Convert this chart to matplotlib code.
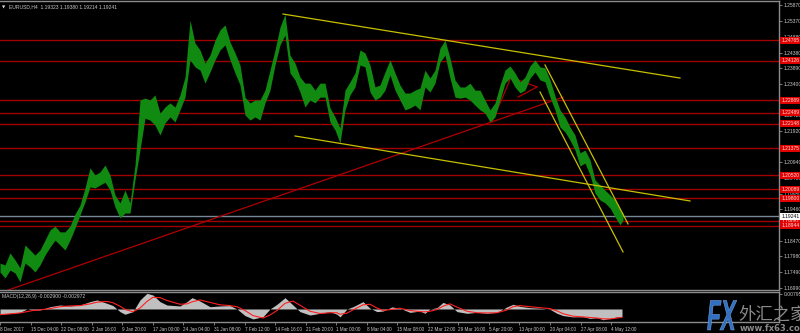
import matplotlib
matplotlib.use("Agg")
import matplotlib.pyplot as plt
from matplotlib.transforms import blended_transform_factory, Affine2D
from matplotlib.textpath import TextPath
from matplotlib.font_manager import FontProperties
from matplotlib.patches import PathPatch

# ---------------- data ----------------
bars = [0, 5, 10, 15, 20, 25, 30, 35, 40, 45, 50, 55, 60, 65, 70, 75, 80, 85, 90, 95,
        100, 105, 110, 115, 120, 125, 130, 135, 140, 145, 150, 155, 160, 165, 170, 175, 180, 185, 190, 195,
        200, 205, 210, 215, 220, 225, 230, 235, 240, 245, 250, 255, 260, 265, 270, 275, 280, 285, 290, 295,
        300, 305, 310, 315, 320, 325, 330, 335, 340, 345, 350, 355, 360, 365, 370, 375, 380, 385, 390, 395,
        400, 405, 410, 415, 420, 425, 430, 435, 440, 445, 450, 455, 460, 465, 470, 475, 480, 485, 490, 495,
        500, 505, 510, 515, 520, 525, 530, 535, 540, 545, 550, 555, 560, 565, 570, 575, 580, 585, 590, 595,
        600, 605, 610, 615, 620, 623]
highs = [1.1777, 1.1771, 1.1809, 1.1787, 1.1762, 1.1834, 1.1818, 1.1802, 1.1818, 1.1849,
         1.1881, 1.1893, 1.1875, 1.1875, 1.1893, 1.1931, 1.1959, 1.2013, 1.2076, 1.2054,
         1.2063, 1.2085, 1.2054, 1.1991, 1.1966, 1.2006, 1.1966, 1.2085, 1.2289, 1.2295,
         1.2289, 1.2305, 1.2248, 1.2267, 1.2280, 1.2267, 1.2305, 1.2361, 1.2540, 1.2468,
         1.2446, 1.2405, 1.2430, 1.2477, 1.2509, 1.2525, 1.2471, 1.2437, 1.2399, 1.2298,
         1.2280, 1.2289, 1.2289, 1.2320, 1.2383, 1.2446, 1.2518, 1.2559, 1.2430, 1.2405,
         1.2361, 1.2342, 1.2342, 1.2320, 1.2342, 1.2342, 1.2264, 1.2236, 1.2201, 1.2320,
         1.2346, 1.2374, 1.2446, 1.2437, 1.2399, 1.2330, 1.2336, 1.2377, 1.2415, 1.2374,
         1.2336, 1.2311, 1.2311, 1.2320, 1.2327, 1.2383, 1.2358, 1.2383, 1.2452, 1.2477,
         1.2421, 1.2352, 1.2330, 1.2330, 1.2342, 1.2320, 1.2320, 1.2289, 1.2258, 1.2280,
         1.2336, 1.2383, 1.2396, 1.2374, 1.2346, 1.2361, 1.2396, 1.2415, 1.2393, 1.2390,
         1.2352, 1.2302, 1.2258, 1.2236, 1.2204, 1.2179, 1.2123, 1.2132, 1.2101, 1.2038,
         1.2022, 1.2006, 1.1991, 1.1975, 1.1944, 1.1934]
lows = [1.1749, 1.1730, 1.1755, 1.1746, 1.1718, 1.1777, 1.1765, 1.1749, 1.1771, 1.1802,
        1.1827, 1.1849, 1.1834, 1.1818, 1.1849, 1.1887, 1.1928, 1.1969, 1.2016, 1.2013,
        1.2022, 1.2031, 1.2006, 1.1953, 1.1919, 1.1934, 1.1934, 1.2038, 1.2132, 1.2232,
        1.2226, 1.2210, 1.2179, 1.2217, 1.2236, 1.2220, 1.2258, 1.2298, 1.2415, 1.2393,
        1.2383, 1.2342, 1.2377, 1.2415, 1.2446, 1.2462, 1.2415, 1.2374, 1.2336, 1.2242,
        1.2226, 1.2236, 1.2226, 1.2280, 1.2320, 1.2399, 1.2462, 1.2493, 1.2374, 1.2352,
        1.2314, 1.2267, 1.2289, 1.2280, 1.2298, 1.2298, 1.2220, 1.2195, 1.2154, 1.2258,
        1.2305, 1.2330, 1.2399, 1.2393, 1.2314, 1.2289, 1.2298, 1.2320, 1.2368, 1.2320,
        1.2289, 1.2258, 1.2264, 1.2273, 1.2258, 1.2330, 1.2314, 1.2342, 1.2408, 1.2430,
        1.2358, 1.2298, 1.2295, 1.2298, 1.2289, 1.2273, 1.2258, 1.2248, 1.2220, 1.2236,
        1.2289, 1.2342, 1.2358, 1.2330, 1.2311, 1.2320, 1.2358, 1.2377, 1.2352, 1.2346,
        1.2298, 1.2258, 1.2204, 1.2189, 1.2163, 1.2132, 1.2082, 1.2091, 1.2054, 1.1997,
        1.1975, 1.1966, 1.1950, 1.1922, 1.1897, 1.1912]

levels = [1.24765, 1.24126, 1.22889, 1.22489, 1.22148, 1.21375, 1.20520, 1.20089, 1.19800, 1.19081, 1.18944]
bid = 1.19241
price_ticks = ['1.25870', '1.25370', '1.24880', '1.24380', '1.23890', '1.23400', '1.22910', '1.22420',
               '1.21920', '1.21430', '1.20940', '1.20450', '1.19950', '1.19460', '1.18970', '1.18470',
               '1.17980', '1.17490', '1.16990']

# trend lines: (bar0, price0, bar1, price1)
yellow_lines = [(283, 1.2559, 680, 1.2358), (295, 1.2176, 690, 1.1972),
                (545, 1.2399, 628, 1.1900), (540, 1.2314, 623, 1.1812)]
red_lines = [(8, 1.1692, 563, 1.2298), (492, 1.2220, 512, 1.2368),
             (518, 1.2352, 537, 1.2330), (518, 1.2298, 537, 1.2330)]

macd_bars = [0, 10, 20, 27, 33, 40, 50, 60, 70, 80, 90, 97, 107, 113, 120, 125, 133, 140, 147, 153,
             160, 167, 180, 187, 192, 200, 210, 220, 230, 237, 245, 253, 263, 270, 277, 285, 293, 300, 310, 320,
             330, 337, 340, 347, 353, 363, 370, 377, 383, 392, 400, 410, 420, 425, 430, 437, 443, 450, 457, 467,
             477, 487, 497, 507, 513, 520, 530, 540, 550, 557, 563, 573, 583, 590, 597, 603, 610, 617, 622]
macd_main = [-0.0028, -0.0023, -0.0018, 0.0000, -0.0005, -0.0005, 0.0012, 0.0021, 0.0016, 0.0021,
             0.0039, 0.0048, 0.0030, 0.0018, -0.0014, -0.0028, -0.0014, 0.0048, 0.0083, 0.0074,
             0.0039, 0.0021, 0.0016, 0.0039, 0.0060, 0.0042, 0.0012, 0.0016, 0.0018, 0.0000,
             -0.0035, -0.0053, -0.0041, 0.0000, 0.0025, 0.0060, 0.0021, -0.0014, -0.0032, -0.0023,
             -0.0014, -0.0028, -0.0042, 0.0000, 0.0012, 0.0039, 0.0004, -0.0014, -0.0011, 0.0011,
             0.0004, -0.0018, -0.0011, -0.0023, 0.0000, 0.0007, 0.0035, 0.0021, -0.0014, -0.0023,
             -0.0018, -0.0023, -0.0018, 0.0011, 0.0025, 0.0014, 0.0007, 0.0004, -0.0002, -0.0023,
             -0.0035, -0.0042, -0.0041, -0.0050, -0.0046, -0.0057, -0.0050, -0.0042, -0.0041]
macd_signal = [-0.0030, -0.0026, -0.0021, -0.0014, -0.0008, -0.0005, 0.0002, 0.0012, 0.0016, 0.0018,
               0.0027, 0.0036, 0.0040, 0.0033, 0.0015, -0.0002, -0.0015, 0.0005, 0.0040, 0.0062,
               0.0060, 0.0045, 0.0025, 0.0027, 0.0038, 0.0048, 0.0035, 0.0022, 0.0018, 0.0012,
               -0.0008, -0.0035, -0.0048, -0.0032, -0.0008, 0.0030, 0.0042, 0.0020, -0.0012, -0.0024,
               -0.0020, -0.0020, -0.0028, -0.0022, -0.0005, 0.0022, 0.0025, 0.0005, -0.0008, -0.0002,
               0.0004, -0.0008, -0.0014, -0.0015, -0.0012, -0.0003, 0.0015, 0.0027, 0.0010, -0.0012,
               -0.0020, -0.0021, -0.0020, -0.0005, 0.0012, 0.0018, 0.0012, 0.0007, 0.0002, -0.0010,
               -0.0025, -0.0038, -0.0042, -0.0045, -0.0048, -0.0052, -0.0053, -0.0048, -0.0044]
macd_max_label = '0.007957'

date_pos = [0, 31, 61, 92, 122, 153, 183, 214, 245, 275, 306, 336, 367, 397, 428, 458, 489, 519, 550, 581, 611]
date_labels = ['8 Dec 2017', '15 Dec 04:00', '22 Dec 08:00', '2 Jan 16:00', '9 Jan 20:00', '17 Jan 00:00',
               '24 Jan 04:00', '31 Jan 08:00', '7 Feb 12:00', '14 Feb 16:00', '21 Feb 20:00', '1 Mar 00:00',
               '8 Mar 04:00', '15 Mar 08:00', '22 Mar 12:00', '29 Mar 16:00', '5 Apr 20:00', '13 Apr 00:00',
               '20 Apr 04:00', '27 Apr 08:00', '4 May 12:00']

title = 'EURUSD,H4  1.19323 1.19380 1.19214 1.19241'
macd_title = 'MACD(12,26,9) -0.002900 -0.002972'

# ---------------- fonts ----------------
plt.rcParams['font.family'] = ['Liberation Sans', 'DejaVu Sans']
FS = 3.6
FS_DATE = 3.3

# ---------------- layout ----------------
W, H = 800, 333
BG = '#000000'
GRID = '#8c8c8c'
TXT = '#c8c8c8'


def rect(l, t, r, b):
    return [l / W, 1 - b / H, (r - l) / W, (b - t) / H]


fig = plt.figure(figsize=(W / 100, H / 100), dpi=100, facecolor=BG)

ax = fig.add_axes(rect(0, 1, 779, 290), facecolor=BG)
ax.set_xlim(0, 779)
ax.set_ylim(1.16924, 1.25999)

for lv in levels:
    ax.axhline(lv, color='#a00000', lw=1.0, zorder=1)
ax.axhline(bid, color='#778899', lw=1.0, zorder=1)

for b0, p0, b1, p1 in red_lines:
    ax.plot([b0, b1], [p0, p1], color='#b00000', lw=0.9, zorder=2)
for b0, p0, b1, p1 in yellow_lines:
    ax.plot([b0, b1], [p0, p1], color='#c8c000', lw=0.9, zorder=4)

ax.fill_between(bars, lows, highs, color='#108a10', lw=0, zorder=3)

ax.yaxis.tick_right()
ax.set_yticks([float(t) for t in price_ticks])
ax.set_yticklabels(price_ticks)
ax.tick_params(axis='y', colors=GRID, labelcolor=TXT, labelsize=FS, length=2, width=0.6, pad=1.2)
ax.set_xticks([])
ax.spines['left'].set_visible(False)
for s in ['top', 'right', 'bottom']:
    ax.spines[s].set_color(GRID)
    ax.spines[s].set_linewidth(1.0)

tr = blended_transform_factory(ax.transAxes, ax.transData)
for lv in levels:
    ax.text(1.003, lv, f'{lv:.5f}', transform=tr, fontsize=FS, color='#ffd8d8', va='center', ha='left',
            bbox=dict(boxstyle='square,pad=0.2', fc='#e00000', ec='none'), zorder=10, clip_on=False)
ax.text(1.003, bid, f'{bid:.5f}', transform=tr, fontsize=FS, color='#000000', va='center', ha='left',
        bbox=dict(boxstyle='square,pad=0.2', fc='#ffffff', ec='none'), zorder=11, clip_on=False)

ax.text(0.003, 0.984, '\u25BC', transform=ax.transAxes, fontsize=3.0, color='#e0e0e0', va='top', ha='left',
        family='DejaVu Sans')
ax.text(0.012, 0.988, title, transform=ax.transAxes, fontsize=FS, color=TXT, va='top', ha='left')

# MACD panel
am = fig.add_axes(rect(0, 292, 779, 322), facecolor=BG)
am.set_xlim(0, 779)
am.set_ylim(-0.0069, 0.0090)
am.fill_between(macd_bars, 0, macd_main, color='#c0c0c0', lw=0, zorder=2)
am.plot(macd_bars, macd_signal, color='#ff2020', lw=0.8, zorder=3)
am.yaxis.tick_right()
am.set_yticks([float(macd_max_label)])
am.set_yticklabels([macd_max_label])
am.tick_params(axis='y', colors=GRID, labelcolor=TXT, labelsize=FS, length=2, width=0.6, pad=1.2)
am.set_xticks(date_pos)
am.set_xticklabels(date_labels)
am.tick_params(axis='x', colors=GRID, labelcolor=TXT, labelsize=FS_DATE, length=2, width=0.6, pad=1.5)
for lbl in am.get_xticklabels():
    lbl.set_ha('left')
am.spines['left'].set_visible(False)
for s in ['top', 'right', 'bottom']:
    am.spines[s].set_color(GRID)
    am.spines[s].set_linewidth(1.0)
am.text(0.003, 0.93, macd_title, transform=am.transAxes, fontsize=FS, color=TXT, va='top', ha='left')

# watermark: stretched "FX" logo + Chinese name + url
fx_path = TextPath((0, 0), 'FX', size=1,
                   prop=FontProperties(family='Liberation Sans', weight='bold', style='italic'))
fx_patch = PathPatch(fx_path, transform=Affine2D().scale(22.5, 43).translate(707, 3),
                     fc='#2f6fc4', ec='#8fb4e6', lw=0.3, zorder=20)
fig.add_artist(fx_patch)
fig.text(738 / W, 1 - 320 / H, '外汇之家', color='#8a8a8a', fontsize=12.5,
         family=['Noto Sans CJK SC', 'DejaVu Sans'], ha='left', va='baseline', zorder=20)
fig.text(740 / W, 1 - 331 / H, 'www.fx63.com', color='#8a8a8a', fontsize=6, fontweight='bold',
         family='DejaVu Sans', ha='left', va='baseline', zorder=20)

fig.savefig('out.png', dpi=100, facecolor=BG)
